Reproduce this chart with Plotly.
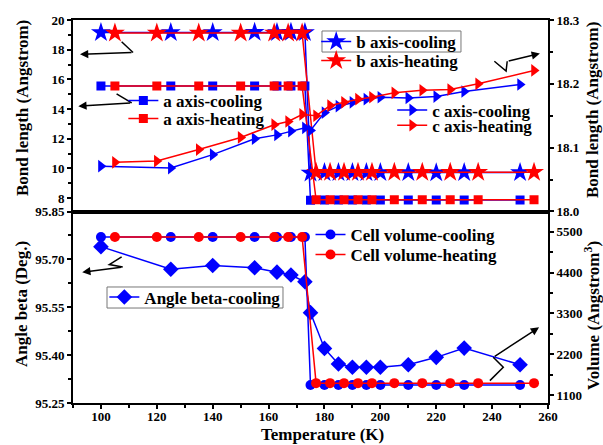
import plotly.graph_objects as go

# Temperatures of the cooling and heating runs (K)
T_cool = [100, 125, 140, 155, 163, 168, 173, 175, 180, 185, 190, 195, 200, 210, 220, 230, 250]
T_heat = [105, 120, 135, 150, 162, 167, 172, 177, 182, 187, 192, 197, 205, 215, 225, 235, 255]

# Lattice parameters (Angstrom)
b_cool = [19.16, 19.16, 19.16, 19.17, 19.16, 19.17, 19.16, 9.70, 9.72, 9.72, 9.72, 9.72, 9.72, 9.72, 9.71, 9.72, 9.72]
b_heat = [19.12, 19.12, 19.12, 19.13, 19.13, 19.13, 19.13, 9.74, 9.74, 9.74, 9.74, 9.74, 9.74, 9.74, 9.74, 9.74, 9.74]
a_cool = [15.55, 15.55, 15.55, 15.55, 15.55, 15.55, 15.55, 7.86, 7.87, 7.87, 7.87, 7.87, 7.87, 7.87, 7.87, 7.87, 7.87]
a_heat = [15.55, 15.55, 15.55, 15.55, 15.55, 15.55, 15.55, 7.89, 7.89, 7.89, 7.89, 7.89, 7.89, 7.89, 7.89, 7.89, 7.89]
c_cool = [18.071, 18.068, 18.089, 18.114, 18.120, 18.126, 18.131, 18.127, 18.155, 18.165, 18.171,
          18.176, 18.179, 18.178, 18.180, 18.188, 18.199]
c_heat = [18.077, 18.079, 18.097, 18.116, 18.136, 18.141, 18.152, 18.150, 18.166, 18.171, 18.176,
          18.179, 18.186, 18.190, 18.191, 18.200, 18.221]

# Monoclinic angle (deg) and cell volume (Angstrom^3)
beta_cool = [95.740, 95.669, 95.681, 95.674, 95.660, 95.651, 95.630, 95.533, 95.421, 95.372, 95.362,
             95.362, 95.362, 95.370, 95.393, 95.422, 95.370]
vol_cool = [5360, 5360, 5360, 5360, 5360, 5360, 5360, 1370, 1370, 1370, 1370, 1370, 1370, 1370, 1370, 1370, 1370]
vol_heat = [5360, 5360, 5360, 5360, 5360, 5360, 5360, 1420, 1420, 1420, 1420, 1420, 1420, 1420, 1420, 1420, 1420]

# Guide arrows (data units of the panel they sit in): zigzag points, last point is the arrow tip
arrow_b = ([107.4, 111.5, 92.5], [18.53, 17.81, 17.69])
arrow_a = ([105.6, 111.0, 91.9], [15.03, 14.42, 14.19])
arrow_c = ([240.8, 245.0, 245.4, 257.1], [17.22, 16.56, 17.22, 17.74])
arrow_beta = ([107.4, 103.0, 107.8, 93.3], [95.708, 95.684, 95.676, 95.660])
arrow_vol = ([239.2, 244.0, 240.4, 256.8], [95.320, 95.362, 95.393, 95.487])

FONT = "Liberation Serif"
BLUE = "#0000FF"
RED = "#FF0000"

fig = go.Figure()


def add(x, y, name, color, symbol, size, xa, ya, legend):
    fig.add_trace(go.Scatter(
        x=x, y=y, name=name, mode="lines+markers",
        line=dict(color=color, width=1.5),
        marker=dict(symbol=symbol, size=size, color=color),
        xaxis=xa, yaxis=ya, legend=legend,
    ))


# top panel
add(T_cool, b_cool, "b axis-cooling", BLUE, "star", 15, "x2", "y", "legend")
add(T_heat, b_heat, "b axis-heating", RED, "star", 15, "x2", "y", "legend2")
add(T_cool, a_cool, "a axis-cooling", BLUE, "square", 9, "x2", "y", "legend3")
add(T_heat, a_heat, "a axis-heating", RED, "square", 9, "x2", "y", "legend4")
add(T_cool, c_cool, "c axis-cooling", BLUE, "triangle-right", 11, "x2", "y2", "legend5")
add(T_heat, c_heat, "c axis-heating", RED, "triangle-right", 11, "x2", "y2", "legend6")
# bottom panel
add(T_cool, vol_cool, "Cell volume-cooling", BLUE, "circle", 10, "x", "y4", "legend7")
add(T_heat, vol_heat, "Cell volume-heating", RED, "circle", 10, "x", "y4", "legend8")
add(T_cool, beta_cool, "Angle beta-cooling", BLUE, "diamond", 12, "x", "y3", "legend9")

# guide arrows: zigzag body as a path, tip as an arrow annotation
for (xs, ys), xr, yr in [(arrow_b, "x2", "y"), (arrow_a, "x2", "y"), (arrow_c, "x2", "y"),
                         (arrow_beta, "x", "y3"), (arrow_vol, "x", "y3")]:
    path = "M " + " L ".join(f"{x},{y}" for x, y in zip(xs[:-1], ys[:-1]))
    if len(xs) > 2:
        fig.add_shape(type="path", path=path, xref=xr, yref=yr,
                      line=dict(color="black", width=1.5))
    fig.add_annotation(x=xs[-1], y=ys[-1], ax=xs[-2], ay=ys[-2], xref=xr, yref=yr,
                       axref=xr, ayref=yr, text="", showarrow=True, arrowhead=2,
                       arrowsize=1.1, arrowwidth=1.5, arrowcolor="black")

# thin grey frames around two of the legend entries
for x0, x1, y0, y1 in [(0.5242, 0.8168, 0.9164, 0.9713), (0.0716, 0.4421, 0.2480, 0.3029)]:
    fig.add_shape(type="rect", xref="paper", yref="paper", x0=x0, x1=x1, y0=y0, y1=y1,
                  line=dict(color="#777777", width=1), fillcolor="white", layer="below")

tickfont = dict(family=FONT, size=13, color="black", weight="bold")
common = dict(showline=True, linecolor="black", linewidth=2, showgrid=False, zeroline=False,
              ticks="outside", ticklen=4, tickwidth=1.5, tickcolor="black", tickfont=tickfont)

fig.update_layout(
    width=603, height=445,
    margin=dict(l=73, r=55, t=20, b=42),
    plot_bgcolor="white", paper_bgcolor="white",
    showlegend=True,
    xaxis=dict(domain=[0, 1], anchor="y3", range=[90, 260], tick0=100, dtick=20, mirror=True,
               ticklabelstandoff=-4,
               minor=dict(dtick=10, ticks="outside", ticklen=3, tickcolor="black"), **common),
    xaxis2=dict(domain=[0, 1], anchor="y", range=[90, 260], matches="x", showticklabels=False,
                showline=True, linecolor="black", linewidth=2, mirror=True, showgrid=False,
                zeroline=False, ticks=""),
    yaxis=dict(domain=[0.5, 1], anchor="x2", range=[7.1, 20], tick0=8, dtick=2, side="left",
               minor=dict(dtick=1, ticks="outside", ticklen=3, tickcolor="black"), **common),
    yaxis2=dict(overlaying="y", anchor="x2", side="right", range=[17.9999, 18.3001], tick0=18.0,
                dtick=0.1, tickformat=".1f",
                minor=dict(dtick=0.05, ticks="outside", ticklen=3, tickcolor="black"), **common),
    yaxis3=dict(domain=[0, 0.5], anchor="x", range=[95.2499, 95.8501], tick0=95.25, dtick=0.15,
                tickformat=".2f", side="left",
                minor=dict(dtick=0.075, ticks="outside", ticklen=3, tickcolor="black"), **common),
    yaxis4=dict(overlaying="y3", anchor="x", side="right", range=[884, 6049], tick0=1100, dtick=1100,
                minor=dict(dtick=550, ticks="outside", ticklen=3, tickcolor="black"), **common),
)

legfont = dict(family=FONT, size=17, color="black", weight="bold")


def leg(x, y):
    return dict(x=x, y=y, xanchor="left", yanchor="middle", font=legfont, itemwidth=30,
                bgcolor="rgba(0,0,0,0)", borderwidth=0)


fig.update_layout(
    legend=leg(0.512, 0.9426),
    legend2=leg(0.512, 0.893),
    legend3=leg(0.106, 0.7885),
    legend4=leg(0.106, 0.7415),
    legend5=leg(0.672, 0.764),
    legend6=leg(0.672, 0.724),
    legend7=leg(0.500, 0.4386),
    legend8=leg(0.500, 0.3864),
    legend9=leg(0.0660, 0.2755),
)

titlefont = dict(family=FONT, size=17, color="black", weight="bold")
for text, x, y, ang in [
    ("Bond length (Angstrom)", -0.1074, 0.77, -90),
    ("Angle beta (Deg.)", -0.1074, 0.2585, -90),
    ("Bond length (Angstrom)", 1.0926, 0.765, -90),
    ("Volume (Angstrom<sup>3</sup>)", 1.0926, 0.2298, -90),
    ("Temperature (K)", 0.526, -0.083, 0),
]:
    fig.add_annotation(text=text, x=x, y=y, xref="paper", yref="paper", textangle=ang,
                       showarrow=False, xanchor="center", yanchor="middle", font=titlefont)

fig.write_html("out.html")
